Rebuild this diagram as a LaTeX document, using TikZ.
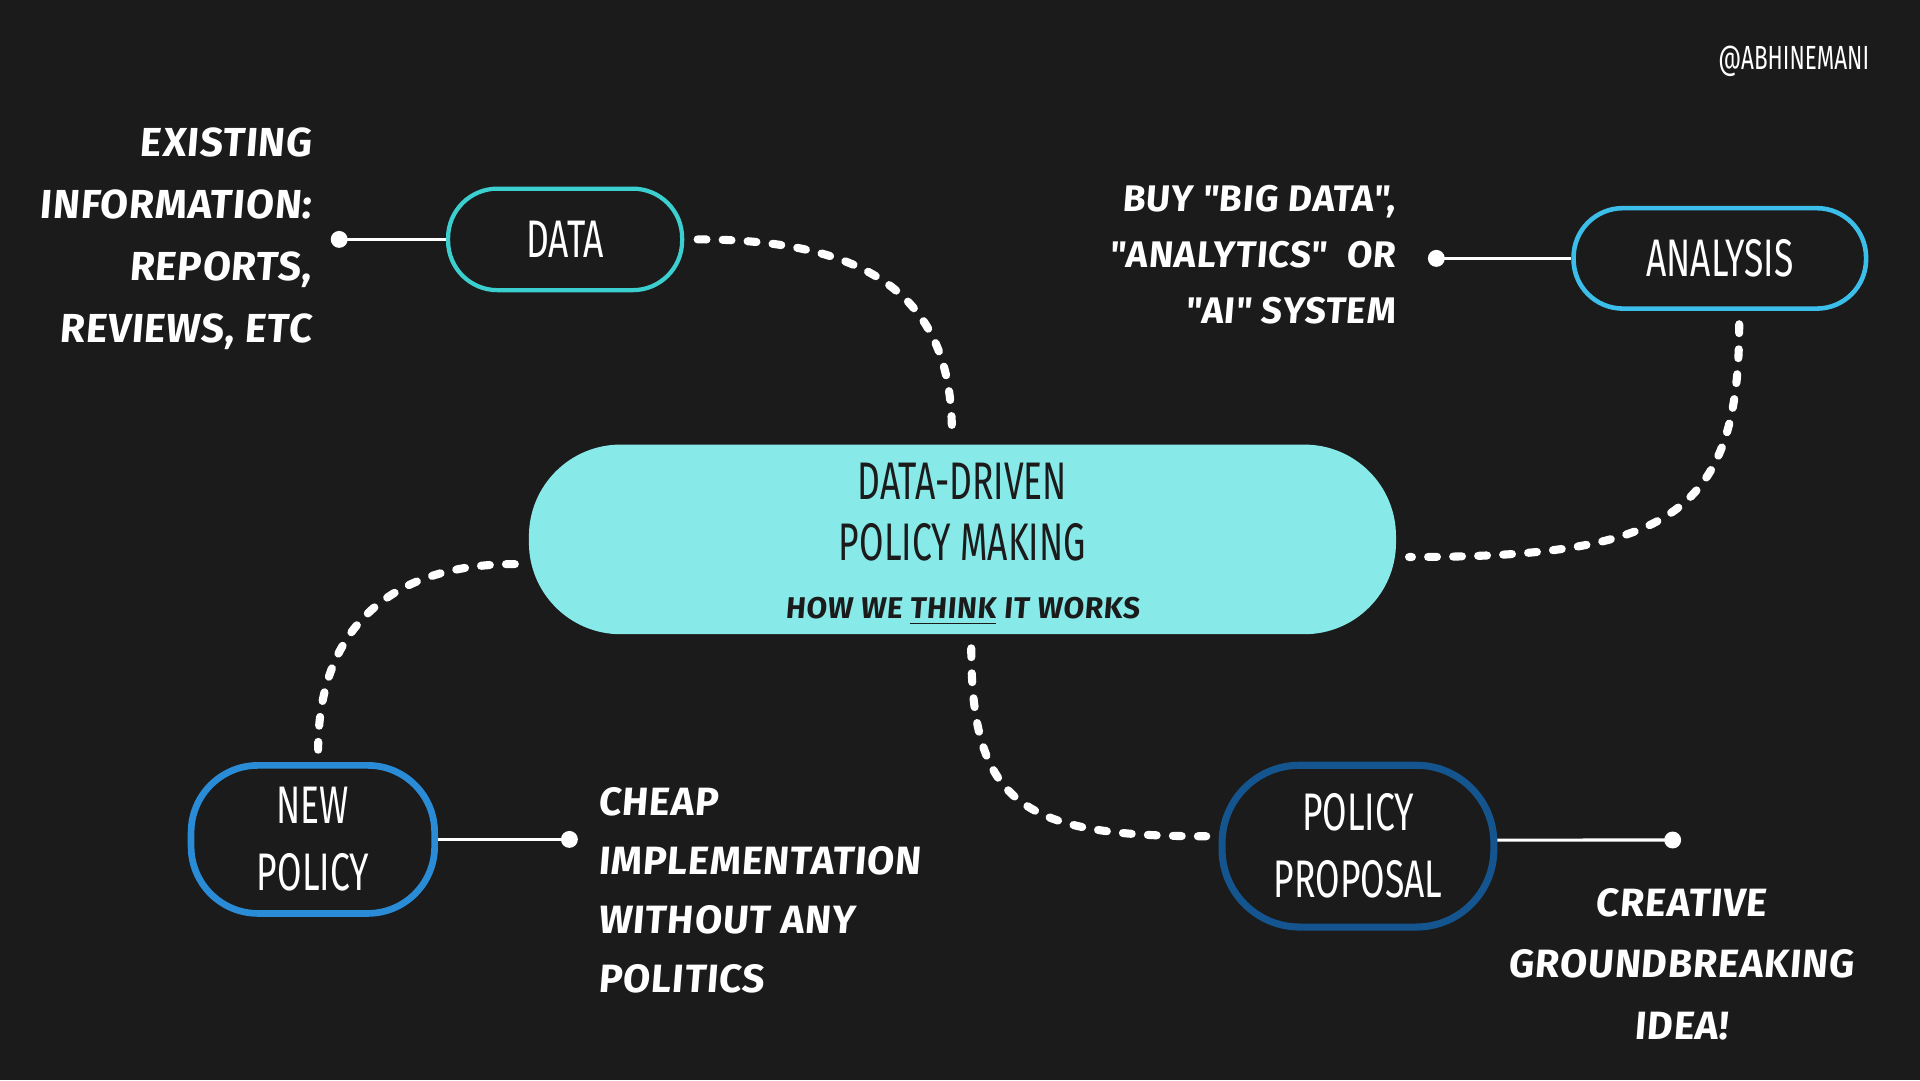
\documentclass[tikz,border=0pt]{standalone}
\usepackage{fontspec}
\setmainfont{Fira Sans}
\newfontfamily\condfont[FakeStretch=0.67]{Fira Sans}
\newfontfamily\brushfont[FakeSlant=0.08,LetterSpace=2]{Fira Sans}

\definecolor{bgdark}{HTML}{1B1B1B}
\definecolor{coretint}{HTML}{87E9E8}
\definecolor{datateal}{HTML}{3CCFD0}
\definecolor{analysisblue}{HTML}{3BBFEA}
\definecolor{newblue}{HTML}{2A8CD6}
\definecolor{propblue}{HTML}{15558F}

\tikzset{
  pill/.style={draw, fill=bgdark, text=white, align=center, inner sep=0pt,
    font=\condfont\fontsize{15}{19}\selectfont},
  note/.style={text=white, inner sep=0pt,
    font=\brushfont\bfseries\fontsize{11.5}{17.6}\selectfont},
  dashline/.style={white, line width=2.3pt, line cap=round,
    dash pattern=on 2.5pt off 4.6pt, shorten <=3.8pt, shorten >=3.5pt},
  link/.style={white, line width=0.9pt},
}

\begin{document}
\begin{tikzpicture}[x=0.3474pt,y=-0.3474pt]

\fill[bgdark] (0,0) rectangle (1568,882);
\useasboundingbox (0,0) rectangle (1568,882);

% centre
\node[fill=coretint, rounded corners=26pt, minimum width=246pt,
  minimum height=53.8pt, inner sep=0pt] (core) at (786,440.5) {};
\node[text=bgdark, align=center, inner sep=0pt,
  font=\condfont\fontsize{15}{17.4}\selectfont] (coretitle) at (786,418)
  {DATA-DRIVEN\\POLICY MAKING};
\node[text=bgdark, anchor=base, inner sep=0pt,
  font=\brushfont\bfseries\fontsize{8.5}{10}\selectfont] (coresub) at (786,505)
  {HOW WE \underline{THINK} IT WORKS};

% the four steps
\node[pill, draw=datateal, line width=1.2pt, minimum width=66.4pt,
  minimum height=28.8pt, rounded corners=14pt] (data) at (461.5,195.5) {DATA};
\node[pill, draw=analysisblue, line width=1.3pt, minimum width=83pt,
  minimum height=28.5pt, rounded corners=14pt] (analysis) at (1404.5,211) {ANALYSIS};
\node[pill, draw=newblue, line width=1.9pt, minimum width=69.1pt,
  minimum height=42pt, rounded corners=19pt] (newpol) at (255.5,685.5) {NEW\\POLICY};
\node[pill, draw=propblue, line width=2pt, minimum width=77.1pt,
  minimum height=45.9pt, rounded corners=22pt] (proposal) at (1109,691) {POLICY\\PROPOSAL};

% notes
\node[note, align=right, anchor=east] (datanote) at (255,195)
  {EXISTING\\INFORMATION:\\REPORTS,\\REVIEWS, ETC};
\node[note, align=right, anchor=east,
  font=\brushfont\bfseries\fontsize{10.5}{16}\selectfont] (analysisnote) at (1140,208)
  {BUY "BIG DATA",\\"ANALYTICS"~~OR\\"AI" SYSTEM};
\node[note, align=left, anchor=west,
  font=\brushfont\bfseries\fontsize{11.2}{16.7}\selectfont] (newnote) at (488,727)
  {CHEAP\\IMPLEMENTATION\\WITHOUT ANY\\POLITICS};
\node[note, align=center,
  font=\brushfont\bfseries\fontsize{11.2}{17.5}\selectfont] (propnote) at (1373,787.5)
  {CREATIVE\\GROUNDBREAKING\\IDEA!};

\node[text=white, anchor=east, inner sep=0pt,
  font=\condfont\fontsize{9.5}{11}\selectfont] (handle) at (1527,50) {@ABHINEMANI};

% dots and solid links
\coordinate (dotA) at (277,195.5);
\fill[white] (dotA) circle[radius=2.4pt];
\draw[link] (dotA) -- (data.west);

\coordinate (dotB) at (1173,211);
\fill[white] (dotB) circle[radius=2.4pt];
\draw[link] (dotB) -- (analysis.west);

\coordinate (dotC) at (465,685.5);
\fill[white] (dotC) circle[radius=2.4pt];
\draw[link] (newpol.east) -- (dotC);

\coordinate (dotD) at (1366,686);
\fill[white] (dotD) circle[radius=2.4pt];
\draw[link] ([yshift=1.7pt]proposal.east) -- (dotD);

% dashed cycle
\draw[dashline] (data.east) to[out=0, in=90, out distance=52pt, in distance=42pt]
  ([xshift=-3pt]core.north);
\draw[dashline] ([xshift=5.5pt]analysis.south) to[out=-90, in=0, out distance=59pt,
  in distance=76pt] ([yshift=-5pt]core.east);
\draw[dashline] ([yshift=-7pt]core.west) to[out=180, in=90, out distance=40pt,
  in distance=37pt] ([xshift=1.5pt]newpol.north);
\draw[dashline] ([xshift=2.5pt]core.south) to[out=-90, in=180, out distance=48.6pt,
  in distance=55pt] ([yshift=2.8pt]proposal.west);

\end{tikzpicture}
\end{document}
